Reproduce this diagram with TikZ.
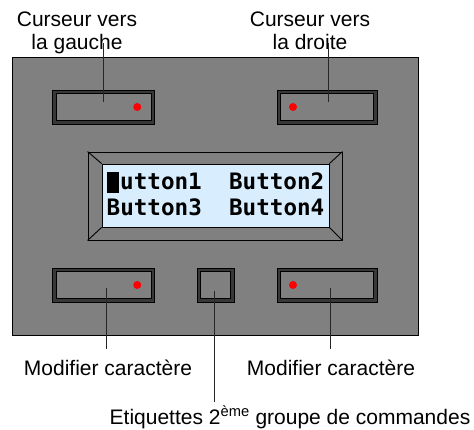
\documentclass[tikz,border=0pt]{standalone}
\usepackage{fontspec}
\setmainfont{Liberation Sans}
\newfontfamily\lcdfont{DejaVu Sans Mono}

\definecolor{panelgray}{HTML}{808080}
\definecolor{keydark}{HTML}{383838}
\definecolor{lcdblue}{HTML}{D8EEFF}

\begin{document}
\begin{tikzpicture}[x=1pt, y=-1pt,
    box/.style={draw=black, line width=0.9pt, inner sep=0},
    keyout/.style={box, fill=keydark, minimum height=34pt},
    keyin/.style={box, fill=panelgray, minimum height=27pt},
    led/.style={circle, fill=red, inner sep=0, minimum size=8pt},
    lead/.style={draw=black!85, line width=0.8pt},
    lbl/.style={inner sep=0, font=\fontsize{21}{23}\selectfont}]

  \useasboundingbox (0,0) rectangle (474,430);

  % front panel and display
  \node[box, fill=panelgray, minimum width=406pt, minimum height=278pt] (panel) at (215,196) {};
  \node[box, fill=panelgray, minimum width=254pt, minimum height=88pt] (lcd) at (215,196) {};
  \node[box, fill=lcdblue, minimum width=227pt, minimum height=63pt] (ecran) at (215.5,195.5) {};
  \foreach \a in {north west,north east,south west,south east} {
    \draw[line width=0.9pt] (lcd.\a) -- (ecran.\a);
  }
  \node[inner sep=0, align=left, font=\lcdfont\bfseries\fontsize{22.6}{26}\selectfont] (texte) at (215.5,194)
    {\makebox[0.6em][l]{\rule[-0.13em]{0.53em}{0.93em}}utton1~~Button2\\Button3~~Button4};

  % keys
  \foreach \n/\x/\y/\w in {bTL/103.75/107/102, bTR/327/107/100, bBL/103.75/285/102, bBM/215.5/285/37, bBR/327/285/100} {
    \node[keyout, minimum width=\w*1pt] (\n) at (\x,\y) {};
    \node[keyin, minimum width=\w*1pt-7.5pt] (\n-in) at (\n) {};
  }
  \foreach \n/\dx in {bTL/33.5, bBL/33.5, bTR/-34, bBR/-34} {
    \node[led] (\n-led) at ([xshift=\dx pt]\n.center) {};
  }

  % labels
  \node[lbl, align=center, anchor=north] (lTL) at (77,11.5) {Curseur vers\\la gauche};
  \node[lbl, align=center, anchor=north] (lTR) at (310,11.5) {Curseur vers\\la droite};
  \node[lbl, anchor=base] (lBL) at (108,375.5) {Modifier caractère};
  \node[lbl, anchor=base] (lBR) at (331,375.5) {Modifier caractère};
  \node[lbl, anchor=base] (lBM) at (290,424) {Etiquettes 2\textsuperscript{ème} groupe de commandes};

  \coordinate (pTL) at (103,102);
  \coordinate (pTR) at (328,102);
  \coordinate (pBL) at (106,288);
  \coordinate (pBM) at (214,291);
  \coordinate (pBR) at (330,288);

  \draw[lead] (pTL) -- ([yshift=-31.5pt]lTL.north -| pTL);
  \draw[lead] (pTR) -- ([yshift=-31.5pt]lTR.north -| pTR);
  \draw[lead] (pBL) -- ([yshift=11pt]lBL.north -| pBL);
  \draw[lead] (pBR) -- ([yshift=11pt]lBR.north -| pBR);
  \draw[lead] (pBM) -- ([yshift=3pt]lBM.north -| pBM);
\end{tikzpicture}
\end{document}
